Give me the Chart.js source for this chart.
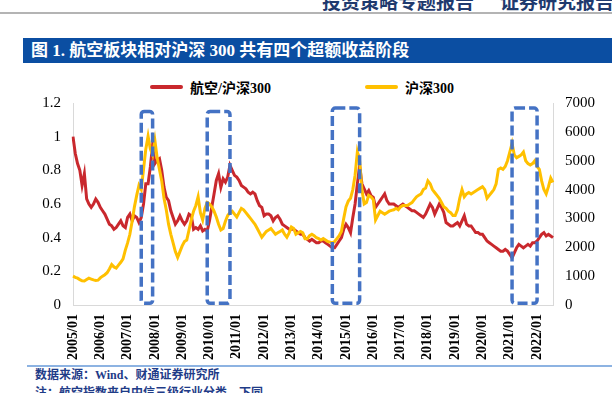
<!DOCTYPE html>
<html>
<head>
<meta charset="utf-8">
<script src="https://cdn.jsdelivr.net/npm/chart.js@4.4.1/dist/chart.umd.min.js"></script>
<style>
  body { margin: 0; width: 612px; height: 393px; overflow: hidden; background: #fff; position: relative;
         font-family: 'Liberation Serif', 'Noto Sans CJK SC', serif; }
  .hd { position: absolute; top: -9px; font-size: 19px; line-height: 19px; font-weight: bold; color: #1f3a6e;
        font-family: 'Noto Sans CJK SC', sans-serif; white-space: nowrap; }
  .rule { position: absolute; left: 0; top: 12px; width: 612px; height: 2px; background: #b4b4b4; }
  .titlebar { position: absolute; left: 23px; top: 38px; width: 589px; height: 25px; background: #0b4ea2;
              color: #fff; font-weight: bold; font-size: 17px; line-height: 25px; padding-left: 8px; box-sizing: border-box;
              font-family: 'Liberation Serif', 'Noto Sans CJK SC', serif; white-space: nowrap; }
  #legend { position: absolute; left: 150px; top: 80px; display: flex; }
  #legend .item { display: flex; align-items: center; width: 215px; height: 14px; }
  #legend .swatch { width: 33px; height: 4px; border-radius: 2px; }
  #legend .txt { margin-left: 7px; font-size: 14px; font-weight: bold; color: #000; white-space: nowrap; }
  #chart { position: absolute; left: 0; top: 68px; }
  .foot-rule { position: absolute; left: 27px; top: 365px; width: 585px; height: 2px; background: #8db3e2; }
  .note { position: absolute; left: 35px; font-size: 12px; line-height: 12px; font-weight: bold; color: #1f3c88; white-space: nowrap; }
</style>
</head>
<body>
<div class="hd" style="left:322px">投资策略专题报告</div>
<div class="hd" style="left:500px">证券研究报告</div>
<div class="rule"></div>
<div class="titlebar">图 1. 航空板块相对沪深 300 共有四个超额收益阶段</div>
<div id="legend"></div>
<canvas id="chart" width="612" height="297"></canvas>
<div class="foot-rule"></div>
<div class="note" style="top:369px">数据来源：Wind、财通证券研究所</div>
<div class="note" style="top:387px">注：航空指数来自中信三级行业分类，下同</div>
<script>
    // monthly categories 2005/01 .. 2022/08
    var labels = [];
    for (var yr = 2005; yr <= 2022; yr++) {
        for (var m = 1; m <= 12; m++) {
            if (yr === 2022 && m > 8) break;
            labels.push(yr + '/' + (m < 10 ? '0' + m : m));
        }
    }

    // 航空/沪深300 (left axis)
    var ratio = [
        1.00, 0.90, 0.84, 0.80, 0.71, 0.78, 0.63, 0.60, 0.58, 0.60, 0.63, 0.61,
        0.58, 0.56, 0.54, 0.51, 0.48, 0.47, 0.45, 0.46, 0.48, 0.50, 0.47, 0.46,
        0.52, 0.54, 0.50, 0.53, 0.52, 0.49, 0.52, 0.60, 0.72, 0.72, 0.82, 0.95,
        0.84, 0.86, 0.87, 0.80, 0.70, 0.64, 0.62, 0.56, 0.52, 0.48, 0.50, 0.53,
        0.50, 0.48, 0.50, 0.54, 0.53, 0.45, 0.46, 0.45, 0.47, 0.44, 0.45, 0.44,
        0.50, 0.58, 0.66, 0.74, 0.78, 0.70, 0.75, 0.73, 0.76, 0.83, 0.80, 0.77,
        0.76, 0.74, 0.71, 0.70, 0.69, 0.67, 0.66, 0.67, 0.66, 0.62, 0.59, 0.58,
        0.53, 0.54, 0.54, 0.53, 0.50, 0.52, 0.53, 0.51, 0.48, 0.47, 0.46, 0.45,
        0.45, 0.45, 0.44, 0.43, 0.42, 0.42, 0.40, 0.39, 0.38, 0.39, 0.38, 0.37,
        0.37, 0.38, 0.38, 0.37, 0.36, 0.35, 0.34, 0.34, 0.36, 0.38, 0.40, 0.45,
        0.48, 0.46, 0.43, 0.52, 0.60, 0.72, 0.83, 0.72, 0.69, 0.66, 0.68, 0.65,
        0.64, 0.58, 0.60, 0.62, 0.64, 0.66, 0.62, 0.60, 0.60, 0.60, 0.59, 0.58,
        0.59, 0.60, 0.59, 0.58, 0.57, 0.56, 0.56, 0.55, 0.54, 0.53, 0.52, 0.54,
        0.57, 0.60, 0.58, 0.54, 0.57, 0.60, 0.58, 0.55, 0.49, 0.48, 0.47, 0.47,
        0.48, 0.49, 0.47, 0.50, 0.53, 0.48, 0.47, 0.47, 0.45, 0.43, 0.43, 0.42,
        0.42, 0.40, 0.38, 0.37, 0.36, 0.35, 0.34, 0.33, 0.32, 0.32, 0.33, 0.32,
        0.30, 0.28, 0.31, 0.34, 0.36, 0.35, 0.34, 0.35, 0.36, 0.35, 0.37, 0.37,
        0.38, 0.40, 0.42, 0.43, 0.41, 0.42, 0.41, 0.40
    ];

    // 沪深300 (right axis)
    var hs300 = [
        1000, 960, 930, 880, 840, 830, 880, 930, 900, 870, 850, 860,
        940, 1000, 1050, 1120, 1250, 1400, 1320, 1280, 1380, 1480, 1600, 1900,
        2150, 2450, 2900, 3400, 3800, 4150, 4000, 4700, 5400, 5850, 5400, 5200,
        5700, 5100, 4700, 4300, 3700, 3300, 2800, 2450, 2150, 1850, 1650, 1850,
        2050, 2200, 2250, 2600, 2950, 3250, 3450, 3750, 3200, 2950, 3350, 3550,
        3500, 3400, 3250, 3050, 2800, 2600, 2650, 2900, 3100, 3200, 3250, 3150,
        3050, 3200, 3350, 3300, 3200, 3100, 3000, 2900, 2800, 2650, 2500, 2350,
        2450, 2550, 2600, 2650, 2550, 2450, 2500, 2550, 2600, 2450, 2350, 2500,
        2700, 2650, 2450, 2500, 2550, 2500, 2300, 2300, 2400, 2450, 2400, 2330,
        2300, 2250, 2300, 2250, 2200, 2180, 2150, 2200, 2300, 2400, 2550, 3000,
        3400, 3600, 3700, 4000, 4500, 5300, 5000, 4000, 3500, 3550, 3800, 3750,
        3650, 2950, 3100, 3250, 3200, 3150, 3200, 3250, 3280, 3300, 3350, 3300,
        3400, 3450, 3450, 3450, 3500, 3550, 3650, 3750, 3800, 3850, 4000, 4050,
        4300, 4200, 4000, 3900, 3800, 3700, 3550, 3400, 3350, 3250, 3200, 3100,
        3100, 3300, 3700, 4000, 3750, 3850, 3900, 3850, 3900, 3950, 4000, 4050,
        4100, 4000, 3700, 3800, 3900, 4000, 4200, 4700, 4750, 4700, 4800, 5000,
        5300, 5600, 5200, 5100, 5150, 5200, 5300, 5000, 4900, 4850, 4900, 5000,
        4800, 4700, 4300, 4000, 3850, 4100, 4400, 4250
    ];

    // excess-return phases (dashed boxes), in left-axis units
    var boxStart = ['2007/07', '2009/12', '2014/07', '2021/02'];
    var boxEnd = ['2007/12', '2010/10', '2015/07', '2022/01'];
    var boxTop = [1.15, 1.15, 1.17, 1.17];
    var boxBottom = 0.01;

    var phaseBoxes = {
        id: 'phaseBoxes',
        afterDatasetsDraw: function (chart) {
            var ctx = chart.ctx, x = chart.scales.x, y = chart.scales.y;
            ctx.save();
            ctx.strokeStyle = '#4472C4';
            ctx.lineWidth = 3.5;
            ctx.setLineDash([10, 4]);
            for (var k = 0; k < boxStart.length; k++) {
                var x1 = x.getPixelForValue(labels.indexOf(boxStart[k]));
                var x2 = x.getPixelForValue(labels.indexOf(boxEnd[k]));
                var y1 = y.getPixelForValue(boxTop[k]);
                var y2 = y.getPixelForValue(boxBottom);
                ctx.beginPath();
                if (ctx.roundRect) ctx.roundRect(x1, y1, x2 - x1, y2 - y1, 3);
                else ctx.rect(x1, y1, x2 - x1, y2 - y1);
                ctx.stroke();
            }
            ctx.restore();
        }
    };

    Chart.defaults.font.family = "'Liberation Serif', 'Times New Roman', serif";
    Chart.defaults.color = '#000';

    var ctx = document.getElementById('chart').getContext('2d');
    var myLineChart = new Chart(ctx, {
        type: 'line',
        data: {
            labels: labels,
            datasets: [{
                label: '航空/沪深300',
                data: ratio,
                yAxisID: 'y',
                borderColor: '#C9282D',
                backgroundColor: '#C9282D',
                borderWidth: 3,
                pointRadius: 0,
                order: 2
            }, {
                label: '沪深300',
                data: hs300,
                yAxisID: 'y2',
                borderColor: '#FFC000',
                backgroundColor: '#FFC000',
                borderWidth: 3,
                pointRadius: 0,
                order: 1
            }]
        },
        options: {
            responsive: false,
            animation: false,
            layout: { padding: { top: 35, left: 0, right: 0, bottom: 0 } },
            plugins: {
                legend: { display: false },
                tooltip: { enabled: false }
            },
            scales: {
                x: {
                    offset: false,
                    grid: { display: false, drawTicks: false },
                    border: { display: true, color: '#d9d9d9' },
                    ticks: {
                        autoSkip: false,
                        minRotation: 90,
                        maxRotation: 90,
                        padding: 9,
                        font: { size: 14, weight: 'bold' },
                        callback: function (v, i) {
                            return labels[i].slice(5) === '01' ? labels[i] : null;
                        }
                    },
                    afterFit: function (s) { s.height = 60; }
                },
                y: {
                    position: 'left',
                    min: 0,
                    max: 1.2,
                    grid: { display: false, drawTicks: false },
                    border: { display: true, color: '#d9d9d9' },
                    ticks: {
                        stepSize: 0.2,
                        padding: 12,
                        font: { size: 15 },
                        callback: function (v) { return String(+v.toFixed(1)); }
                    },
                    afterFit: function (s) { s.width = 73; }
                },
                y2: {
                    position: 'right',
                    min: 0,
                    max: 7000,
                    grid: { display: false, drawTicks: false },
                    border: { display: true, color: '#d9d9d9' },
                    ticks: {
                        stepSize: 1000,
                        padding: 12,
                        font: { size: 15 },
                        callback: function (v) { return String(v); }
                    },
                    afterFit: function (s) { s.width = 59; }
                }
            }
        },
        plugins: [phaseBoxes]
    });

    // html legend built from the datasets
    var legendEl = document.getElementById('legend');
    myLineChart.data.datasets.forEach(function (ds) {
        var item = document.createElement('div');
        item.className = 'item';
        var sw = document.createElement('span');
        sw.className = 'swatch';
        sw.style.background = ds.borderColor;
        var t = document.createElement('span');
        t.className = 'txt';
        t.textContent = ds.label;
        item.appendChild(sw);
        item.appendChild(t);
        legendEl.appendChild(item);
    });
</script>
</body>
</html>
